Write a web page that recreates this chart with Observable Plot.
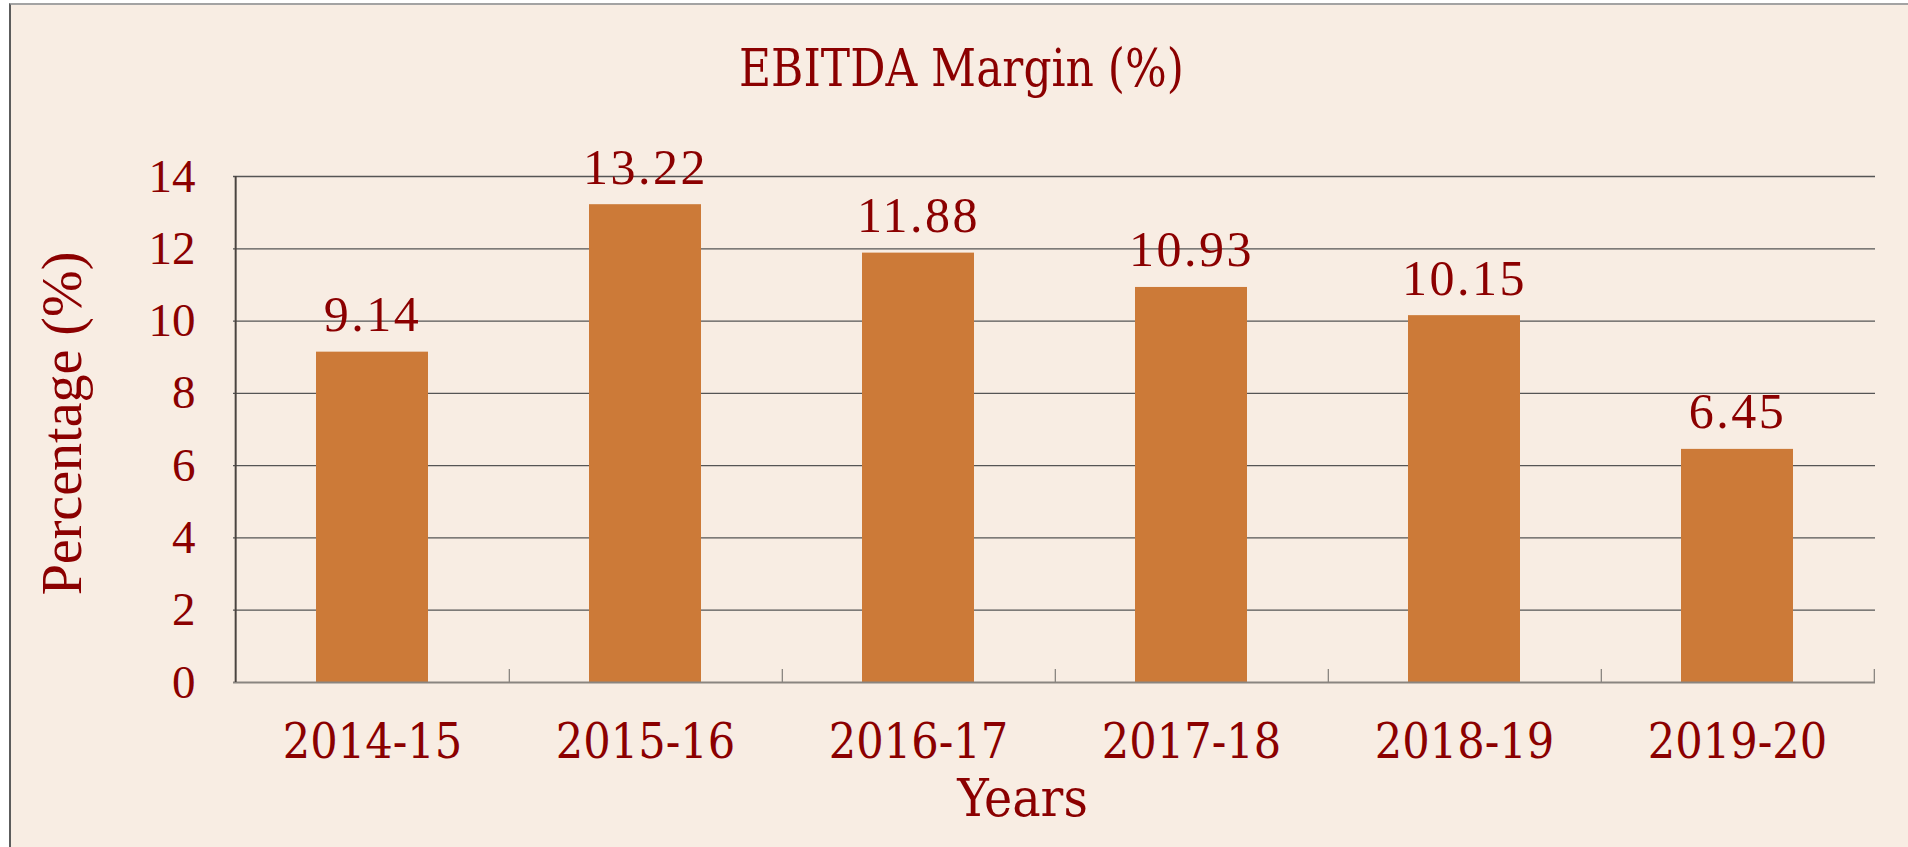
<!DOCTYPE html>
<html>
<head>
<meta charset="utf-8">
<script src="https://cdn.jsdelivr.net/npm/d3@7"></script>
<script src="https://cdn.jsdelivr.net/npm/@observablehq/plot@0.6"></script>
<style>
  html, body { margin: 0; padding: 0; background: #ffffff; }
  body { width: 1908px; height: 847px; position: relative; overflow: hidden; }
  #frame { position: absolute; left: 9px; top: 3px; right: 0; bottom: 0;
           background: #F8EDE3; border-top: 2px solid #a3a3a3; border-left: 2px solid #5c5c5c; }
  #chart { position: absolute; left: 0; top: 0; }
</style>
</head>
<body>
<div id="frame"></div>
<div id="chart"></div>
<script>
const categories = ["2014-15", "2015-16", "2016-17", "2017-18", "2018-19", "2019-20"];
const values = [9.14, 13.22, 11.88, 10.93, 10.15, 6.45];
const yTicks = [0, 2, 4, 6, 8, 10, 12, 14];
const titleText = "EBITDA Margin (%)";
const xTitle = "Years";
const yTitle = "Percentage (%)";

const data = categories.map((c, i) => ({year: c, value: values[i]}));

const W = 1908, H = 847;
const mL = 233, mR = 33, mT = 176, mB = 165;
const plotW = W - mL - mR, plotH = H - mT - mB;
const step = plotW / categories.length;
const textColor = "#8b0000";

const plot = Plot.plot({
  width: W,
  height: H,
  marginLeft: mL,
  marginRight: mR,
  marginTop: mT,
  marginBottom: mB,
  style: {background: "transparent", overflow: "visible"},
  x: {domain: categories, paddingInner: 0.59, paddingOuter: 0.295},
  y: {domain: [0, 14]},
  marks: [
    Plot.ruleY(yTicks.filter(t => t > 0), {y: d => d, stroke: "#555", strokeWidth: 1.3}),
    Plot.barY(data, {x: "year", y: "value", fill: "#CC7A38"}),
    Plot.ruleY([0], {y: d => d, stroke: "#8a8580", strokeWidth: 2}),
    Plot.ruleX(categories.slice(0, 1), {x: d => d, dx: -step / 2, stroke: "#4a4440", strokeWidth: 2}),
    Plot.ruleX(categories, {x: d => d, dx: step / 2, stroke: "#8a8580", strokeWidth: 1.3, insetTop: plotH - 13}),
    Plot.text(data, {x: "year", y: "value", text: d => d.value.toFixed(2), lineAnchor: "bottom", dy: -21,
      fontSize: 50, fontFamily: "Liberation Serif", fill: textColor}),
    Plot.axisY(yTicks, {tickSize: 0, tickPadding: 38, fontSize: 47, fontFamily: "Liberation Serif",
      color: textColor, label: null, tickFormat: d => String(d)}),
    Plot.axisX({tickSize: 0, tickPadding: 41, fontSize: 48, fontFamily: "DejaVu Serif Condensed",
      color: textColor, label: null}),
    Plot.text([titleText], {text: d => d, frameAnchor: "top", dx: -93, dy: -107, lineAnchor: "middle",
      fontSize: 53, fontFamily: "DejaVu Serif Condensed", fill: textColor}),
    Plot.text([xTitle], {text: d => d, frameAnchor: "bottom", dx: -32, dy: 117, lineAnchor: "middle",
      fontSize: 53, fontFamily: "DejaVu Serif Condensed", fill: textColor}),
    Plot.text([yTitle], {text: d => d, frameAnchor: "left", textAnchor: "middle", dx: -170, dy: -6, rotate: -90,
      lineAnchor: "middle", fontSize: 56, fontFamily: "Liberation Serif", fill: textColor})
  ]
});

const svg = d3.select(plot);
svg.selectAll("text").filter(function() { return this.textContent === titleText; })
  .attr("textLength", 445).attr("lengthAdjust", "spacingAndGlyphs");
const labelSet = new Set(values.map(v => v.toFixed(2)));
svg.selectAll("text").filter(function() { return labelSet.has(this.textContent); })
  .style("letter-spacing", "2.5px");

document.getElementById("chart").appendChild(plot);
</script>
</body>
</html>
